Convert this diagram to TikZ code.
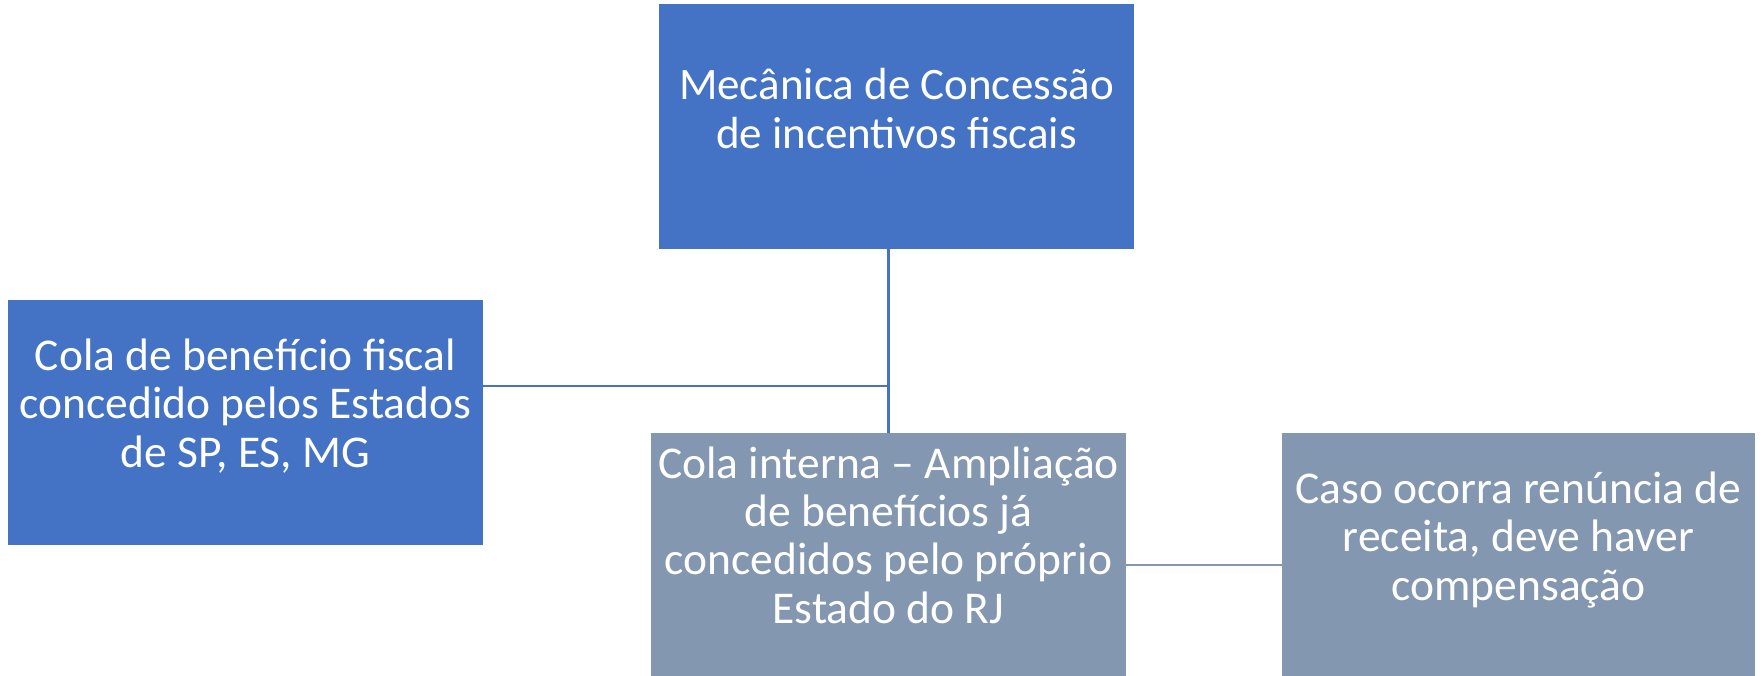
\documentclass[tikz,border=0pt]{standalone}
\usepackage{fontspec}
\setmainfont{Carlito}
\definecolor{boxblue}{HTML}{4472C4}
\definecolor{boxgray}{HTML}{8497B0}
\tikzset{
  box/.style={rectangle, inner sep=0pt, outer sep=0pt, anchor=north west},
  bluebox/.style={box, fill=boxblue},
  graybox/.style={box, fill=boxgray},
  boxtext/.style={anchor=north, inner sep=0pt, align=center, text=white,
    font=\fontsize{45.5}{48.7}\selectfont},
  toptextstyle/.style={boxtext, font=\fontsize{45}{49}\selectfont},
  midtextstyle/.style={boxtext, font=\fontsize{45.5}{48.3}\selectfont},
  bluelink/.style={draw=boxblue, line width=2.5pt},
  graylink/.style={draw=boxgray, line width=2pt}
}
\newcommand{\fs}{\rule{0pt}{40pt}}
\begin{document}
\begin{tikzpicture}[x=1pt,y=-1pt]
\useasboundingbox (0,0) rectangle (1763,675);
\clip (0,0) rectangle (1763,675);
% boxes
\node[bluebox, minimum width=475pt, minimum height=245pt] (top) at (659,4) {};
\node[bluebox, minimum width=475pt, minimum height=245pt] (left) at (8,300) {};
\node[graybox, minimum width=475pt, minimum height=245pt] (mid) at (651,433) {};
\node[graybox, minimum width=473pt, minimum height=245pt] (right) at (1282,433) {};
% texts
\node[toptextstyle] (toptext) at (896.5,59) {\fs Mecânica de Concessão\\de incentivos fiscais};
\node[boxtext] (lefttext) at (245.5,330) {\fs Cola de benefício fiscal\\concedido pelos Estados\\de SP, ES, MG};
\node[midtextstyle] (midtext) at (888.5,438) {\fs Cola interna – Ampliação\\de benefícios já\\concedidos pelo próprio\\Estado do RJ};
\node[boxtext] (righttext) at (1518.5,463) {\fs Caso ocorra renúncia de\\receita, deve haver\\compensação};
% connectors
\coordinate (j) at (mid.north |- 0,386);
\coordinate (rj) at (mid.east |- 0,565);
\draw[bluelink] (top.south -| mid.north) -- (mid.north);
\draw[bluelink] (left.east |- j) -- (j);
\draw[graylink] (rj) -- (right.west |- rj);
\end{tikzpicture}
\end{document}
